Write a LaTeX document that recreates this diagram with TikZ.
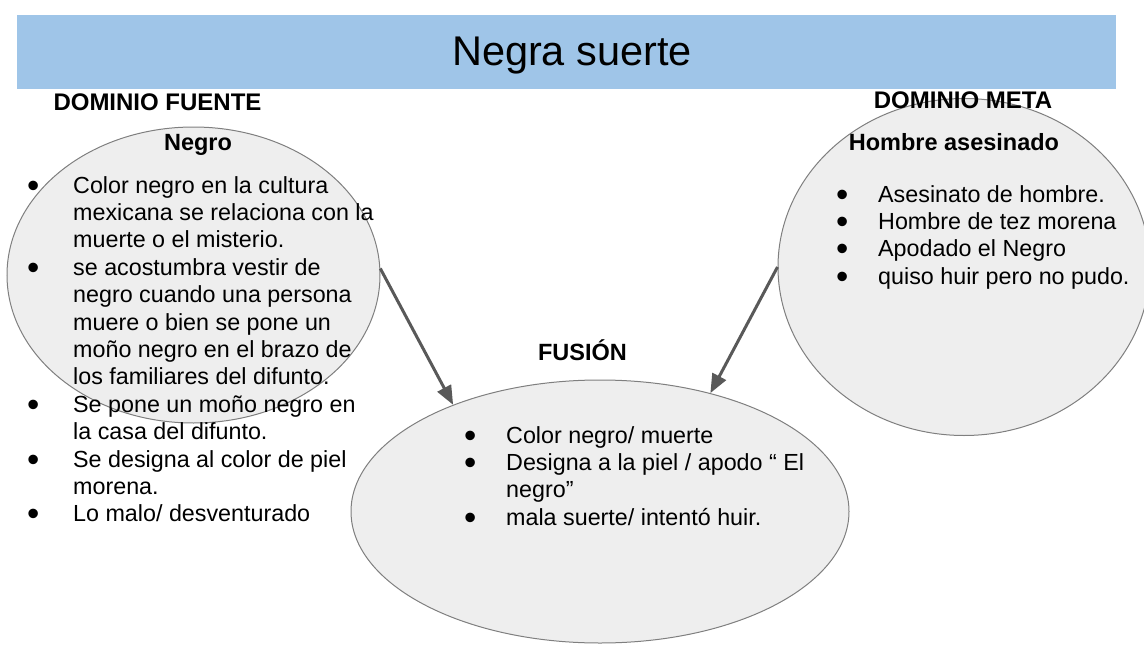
\documentclass[tikz,border=0pt]{standalone}
\usepackage{fontspec}
\usepackage{graphicx}
\usepackage{xcolor}
\setmainfont{Liberation Sans}
\usetikzlibrary{shapes.geometric,arrows.meta}

\definecolor{titleblue}{HTML}{9FC5E8}
\definecolor{ellfill}{HTML}{EEEEEE}
\definecolor{ellgray}{HTML}{7F7F7F}
\definecolor{arrgray}{HTML}{595959}

\newcommand{\bul}{\raisebox{-4.1pt}{\scalebox{1.5}{\textbullet}}}
\newcommand{\listfont}{\fontsize{23.3}{27.4}\selectfont}
\newcommand{\headfont}{\fontsize{23.5}{27.4}\selectfont\bfseries}

\begin{document}
\begin{tikzpicture}[
    x=1pt, y=-1pt,
    blob/.style={ellipse, draw=ellgray, fill=ellfill, line width=1pt, inner sep=0pt},
    head/.style={font=\headfont, anchor=base, inner sep=0pt},
    lst/.style={font=\listfont, anchor=base west, inner sep=0pt},
    arr/.style={-{Triangle[length=19pt,width=15pt]}, draw=arrgray, line width=3pt}]
    \useasboundingbox (0,0) rectangle (1144,645);

    % TITLE BAR
    \fill[titleblue] (17,15) rectangle (1116,89);
    \node[font=\fontsize{41.5}{48}\selectfont, anchor=base, inner sep=0pt] (title) at (572,65) {Negra suerte};

    % ELLIPSES
    % source domain
    \node[blob, minimum width=373pt, minimum height=296pt] (fuente) at (193.5,275) {};
    % target domain
    \node[blob, minimum width=372pt, minimum height=337pt] (meta) at (964,267) {};
    % blend
    \node[blob, minimum width=498pt, minimum height=263pt] (fusion) at (600,511.5) {};

    % HEADINGS
    \node[head, font=\fontsize{24}{27.4}\selectfont\bfseries] (hfuente) at (157.5,110) {DOMINIO FUENTE};
    \node[head, font=\fontsize{24}{27.4}\selectfont\bfseries] (hmeta) at (963,108) {DOMINIO META};
    \node[head] (negro) at (198,150) {Negro};
    \node[head] (hombre) at (954,150) {Hombre asesinado};
    \node[head] (hfusion) at (582.5,360) {FUSIÓN};

    % LISTS
    % list of source domain
    \node[lst] (lfuente) at (27,193) {%
      \begin{tabular}[t]{@{}p{46pt}@{}l@{}}
        \bul & Color negro en la cultura\\
             & mexicana se relaciona con la\\
             & muerte o el misterio.\\
        \bul & se acostumbra vestir de\\
             & negro cuando una persona\\
             & muere o bien se pone un\\
             & moño negro en el brazo de\\
             & los familiares del difunto.\\
        \bul & Se pone un moño negro en\\
             & la casa del difunto.\\
        \bul & Se designa al color de piel\\
             & morena.\\
        \bul & Lo malo/ desventurado
      \end{tabular}};
    % list of target domain
    \node[lst] (lmeta) at (836,202) {%
      \begin{tabular}[t]{@{}p{42pt}@{}l@{}}
        \bul & Asesinato de hombre.\\
        \bul & Hombre de tez morena\\
        \bul & Apodado el Negro\\
        \bul & quiso huir pero no pudo.
      \end{tabular}};
    % list of blend
    \node[lst] (lfusion) at (464,443) {%
      \begin{tabular}[t]{@{}p{42pt}@{}l@{}}
        \bul & Color negro/ muerte\\
        \bul & Designa a la piel / apodo “ El\\
             & negro”\\
        \bul & mala suerte/ intentó huir.
      \end{tabular}};

    % ARROWS
    \draw[arr] (fuente.2) -- (fusion.144);
    \draw[arr] (meta.180) -- (fusion.47);
\end{tikzpicture}
\end{document}
